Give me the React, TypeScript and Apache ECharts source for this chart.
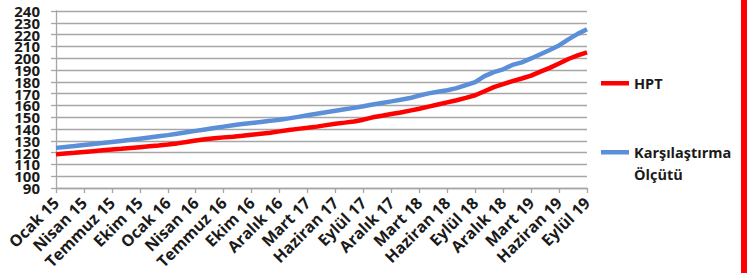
import React, { useEffect, useRef } from "react";
import * as echarts from "echarts";

const tickLabels = [
  "Ocak 15", "Nisan 15", "Temmuz 15", "Ekim 15", "Ocak 16", "Nisan 16", "Temmuz 16", "Ekim 16",
  "Aralık 16", "Mart 17", "Haziran 17", "Eylül 17", "Aralık 17", "Mart 18", "Haziran 18", "Eylül 18",
  "Aralık 18", "Mart 19", "Haziran 19", "Eylül 19",
];

const yTickLabels = [
  "90", "100", "110", "120", "130", "140", "150", "160", "170", "180", "190", "200", "210", "220", "230", "240",
];

const seriesNames = ["HPT", "Karşılaştırma\nÖlçütü"];

const hptValues = [
  118.5, 119.2, 119.8, 120.5, 121.2, 121.9, 122.6, 123.2, 123.9, 124.6,
  125.3, 126.0, 126.8, 127.8, 129.0, 130.3, 131.4, 132.2, 132.9, 133.5,
  134.2, 135.1, 136.0, 136.9, 138.0, 139.2, 140.1, 141.0, 142.0, 143.3,
  144.5, 145.4, 146.4, 147.9, 149.9, 151.2, 152.7, 154.0, 155.6, 157.2,
  159.0, 160.8, 162.6, 164.4, 166.4, 168.6, 172.0, 175.5, 178.0, 180.6,
  182.8, 185.2, 188.6, 191.8, 195.5, 199.3, 202.4, 205.0,
];

const benchmarkValues = [
  124.0, 124.8, 125.6, 126.5, 127.3, 128.1, 129.0, 129.9, 130.8, 131.8,
  132.8, 133.8, 134.8, 136.0, 137.2, 138.4, 139.6, 140.8, 142.0, 143.2,
  144.2, 145.1, 146.0, 146.9, 147.9, 149.0, 150.3, 151.6, 152.9, 154.2,
  155.5, 156.7, 157.9, 159.3, 160.8, 162.1, 163.4, 164.8, 166.2, 168.4,
  170.2, 171.5, 172.8, 174.6, 177.2, 179.8, 184.8, 188.2, 190.6, 194.3,
  196.5, 199.8, 203.4, 207.0, 210.8, 216.0, 220.6, 224.5,
];

// points per tick-label step
const pointsPerLabel = 3;

const FONT = "'Open Sans', 'DejaVu Sans', sans-serif";
const GRID_COLOR = "#a6a6a6";

export default function App() {
  const ref = useRef<HTMLDivElement>(null);

  useEffect(() => {
    if (!ref.current) return;
    const chart = echarts.init(ref.current, null, { renderer: "svg" });
    const toPoints = (vals: number[]) => vals.map((v, k) => [k / pointsPerLabel, v]);

    chart.setOption({
      animation: false,
      textStyle: { fontFamily: FONT },
      grid: { left: 56, right: 160, top: 11, bottom: 85 },
      legend: {
        orient: "vertical",
        left: 601,
        top: 61,
        padding: 0,
        itemGap: 36,
        itemWidth: 28,
        itemHeight: 44,
        selectedMode: false,
        symbolKeepAspect: false,
        itemStyle: { borderWidth: 0 },
        textStyle: { fontFamily: FONT, fontSize: 14.5, fontWeight: "bold", color: "#1a1a1a", lineHeight: 22 },
        data: [
          { name: seriesNames[0], icon: "path://M0,20h28v4.5h-28zM0,0h0.01v0.01h-0.01zM0,44h0.01v0.01h-0.01z" },
          { name: seriesNames[1], icon: "path://M0,9h28v4.5h-28zM0,0h0.01v0.01h-0.01zM0,44h0.01v0.01h-0.01z" },
        ],
      },
      xAxis: {
        type: "value",
        min: 0,
        max: tickLabels.length - 1,
        interval: 1,
        axisLine: { show: true, lineStyle: { color: GRID_COLOR, width: 1.3 } },
        axisTick: { show: true, length: 5, lineStyle: { color: GRID_COLOR, width: 1.3 } },
        splitLine: { show: false },
        axisLabel: {
          rotate: 45,
          margin: 12,
          showMinLabel: true,
          showMaxLabel: true,
          hideOverlap: false,
          fontFamily: FONT,
          fontSize: 16,
          fontWeight: "bold",
          color: "#1a1a1a",
          formatter: (v: number) => tickLabels[Math.round(v)] ?? "",
        },
      },
      yAxis: [
        {
          type: "value",
          min: 90,
          max: 240,
          interval: 10,
          show: false,
          splitLine: { show: false },
        },
        {
          type: "category",
          data: yTickLabels,
          boundaryGap: false,
          position: "left",
          axisLine: { show: true, lineStyle: { color: GRID_COLOR, width: 1.3 } },
          axisTick: { show: true, length: 5, interval: 0, lineStyle: { color: GRID_COLOR, width: 1.3 } },
          splitLine: { show: true, interval: 0, lineStyle: { color: GRID_COLOR, width: 1.3 } },
          axisLabel: {
            interval: 0,
            margin: 16,
            fontFamily: FONT,
            fontSize: 15,
            fontWeight: "bold",
            color: "#1a1a1a",
          },
        },
      ],
      series: [
        {
          name: seriesNames[0],
          type: "line",
          yAxisIndex: 0,
          data: toPoints(hptValues),
          showSymbol: false,
          symbol: "none",
          color: "#ff0000",
          lineStyle: { color: "#ff0000", width: 4.5 },
          z: 3,
        },
        {
          name: seriesNames[1],
          type: "line",
          yAxisIndex: 0,
          data: toPoints(benchmarkValues),
          showSymbol: false,
          symbol: "none",
          color: "#5b8fd8",
          lineStyle: { color: "#5b8fd8", width: 4.5 },
          z: 3,
        },
      ],
      graphic: [
        { type: "rect", left: 741, top: 0, shape: { width: 6, height: 273 }, style: { fill: "#ff0000" } },
      ],
    });

    return () => chart.dispose();
  }, []);

  return (
    <div
      ref={ref}
      style={{ position: "absolute", left: 0, top: 0, width: 747, height: 273, background: "#ffffff" }}
    />
  );
}
